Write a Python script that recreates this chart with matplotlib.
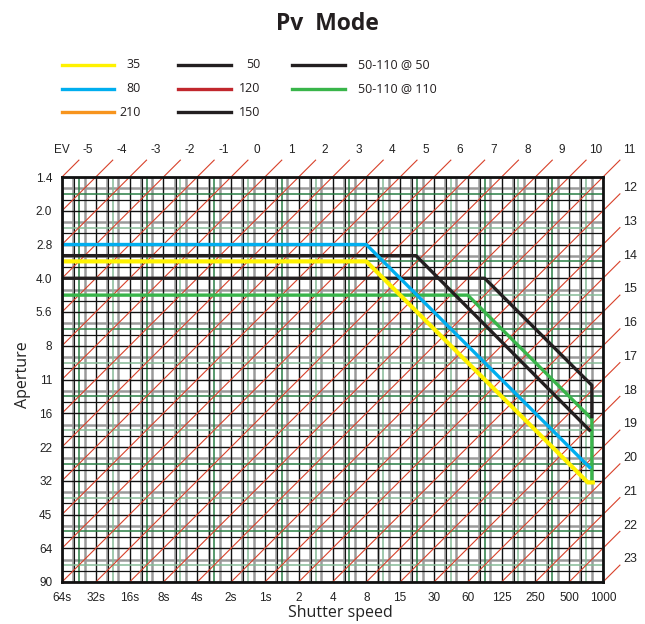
import matplotlib
matplotlib.use("Agg")
import matplotlib.pyplot as plt
from matplotlib.lines import Line2D

# ---- data ----
shutter_labels = ["64s", "32s", "16s", "8s", "4s", "2s", "1s", "2", "4", "8",
                  "15", "30", "60", "125", "250", "500", "1000"]
aperture_labels = ["1.4", "2.0", "2.8", "4.0", "5.6", "8", "11", "16", "22",
                   "32", "45", "64", "90"]
ev_top = list(range(-5, 12))      # EV labels along the top
ev_right = list(range(12, 24))    # EV labels along the right side

# series: (x in stops from 64s, y in stops from f/1.4)
s35_x = [0, 9.0, 15.55, 15.7]
s35_y = [2.5, 2.5, 9.05, 9.05]
s80_x = [0, 9.0, 15.6]
s80_y = [2.0, 2.0, 8.6]
s50_x = [0, 10.47, 15.6]
s50_y = [2.33, 2.33, 7.5]
s5011050_x = [0, 12.5, 15.67, 15.67]
s5011050_y = [3.0, 3.0, 6.17, 7.1]
s50110110_x = [0, 12.0, 15.67, 15.67]
s50110110_y = [3.5, 3.5, 7.17, 9.05]

legend_items = [
    ("35", "#fff200"), ("80", "#00aeef"), ("210", "#f7941d"),
    ("50", "#231f20"), ("120", "#c1272d"), ("150", "#231f20"),
    ("50-110 @ 50", "#231f20"), ("50-110 @ 110", "#39b54a"),
]

W, H = 645, 624
fig = plt.figure(figsize=(W / 100, H / 100), dpi=100)
L, R, T, B = 62, 603, 177, 582
ax = fig.add_axes([L / W, 1 - B / H, (R - L) / W, (B - T) / H])
ax.set_xlim(0, 16)
ax.set_ylim(12, 0)

# ---- grid ----
gray = "#9a9a9a"
green_d = "#2a7f45"
green_l = "#86bb97"
for n in range(16):
    ax.axvline(n + 1/3, color=gray, lw=1.8, zorder=1)
    ax.axvline(n + 2/3, color=gray, lw=1.8, zorder=1)
    ax.axvline(n + 0.36, color="#111111", lw=0.8, zorder=2)
    ax.axvline(n + 0.5, color=green_d if n % 2 == 0 else green_l, lw=1.1, zorder=2)
for n in range(17):
    ax.axvline(n, color="#111111", lw=1.0, zorder=2)
for n in range(12):
    ax.axhline(n + 1/3, color=gray, lw=1.8, zorder=1)
    ax.axhline(n + 2/3, color="#111111", lw=0.9, zorder=2)
    ax.axhline(n + 0.5, color=green_d if n % 2 == 0 else green_l, lw=1.1, zorder=2)
for n in range(13):
    ax.axhline(n, color="#111111", lw=1.0, zorder=2)

# ---- EV diagonals ----
for k in range(0, 29):
    x0, y0 = (0, k) if k <= 12 else (k - 12, 12)
    x1, y1 = (k, 0) if k <= 16 else (16, k - 16)
    ax.plot([x0, x1 + 0.5], [y0, y1 - 0.5], color="#d8412a", lw=0.8,
            clip_on=False, zorder=3)

# ---- series ----
ax.plot(s50110110_x, s50110110_y, color="#39b54a", lw=2.4, zorder=5)
ax.plot(s5011050_x, s5011050_y, color="#231f20", lw=2.4, zorder=5)
ax.plot(s50_x, s50_y, color="#231f20", lw=2.4, zorder=5)
ax.plot(s80_x, s80_y, color="#00aeef", lw=2.4, zorder=6)
ax.plot(s35_x, s35_y, color="#fff200", lw=3.0, zorder=6)

# ---- ticks ----
ax.set_xticks(range(17))
ax.set_xticklabels(shutter_labels, fontsize=8.5, family="Liberation Sans",
                   color="#222222")
ax.set_yticks(range(13))
ax.set_yticklabels(aperture_labels, fontsize=8.5, family="Liberation Sans",
                   color="#222222")
ax.tick_params(length=0, pad=7)
for s in ax.spines.values():
    s.set_linewidth(2.0)
    s.set_color("#111111")
    s.set_zorder(7)

# EV labels
ax.text(0, -0.8, "EV", ha="center", va="center", fontsize=8.5,
        family="Liberation Sans", color="#222222", clip_on=False)
for i, ev in enumerate(ev_top):
    ax.text(i + 0.77, -0.8, str(ev), ha="center", va="center", fontsize=8.5,
            family="Liberation Sans", color="#222222", clip_on=False)
for i, ev in enumerate(ev_right):
    ax.text(16.8, (i + 1) - 0.67, str(ev), ha="center", va="center",
            fontsize=9, family="Liberation Sans", color="#222222",
            clip_on=False)

# axis labels
fig.text(23 / W, 1 - 375 / H, "Aperture", rotation=90, ha="center",
         va="center", fontsize=11.5, family="Open Sans", color="#222222")
fig.text(340 / W, 1 - 613 / H, "Shutter speed", ha="center", va="center",
         fontsize=11.5, family="Open Sans", color="#222222")

# title
fig.text(327 / W, 1 - 24 / H, "Pv  Mode", ha="center", va="center",
         fontsize=16.5, family="Open Sans", fontweight="bold", color="#231f20")

# legend (manual layout)
cols = [(62, 114, 141, "right"), (178, 231, 260, "right"),
        (292, 345, 358, "left")]
rows = [65, 89, 112]
layout = [(0, 0), (0, 1), (0, 2), (1, 0), (1, 1), (1, 2), (2, 0), (2, 1)]
for (label, color), (c, r) in zip(legend_items, layout):
    x0, x1, tx, ha = cols[c]
    y = 1 - rows[r] / H
    fig.add_artist(Line2D([x0 / W, x1 / W], [y, y], color=color, lw=2.4))
    fig.text(tx / W, y, label, ha=ha, va="center", fontsize=9,
             family="Open Sans", color="#231f20")

fig.savefig("out.png", dpi=100)
